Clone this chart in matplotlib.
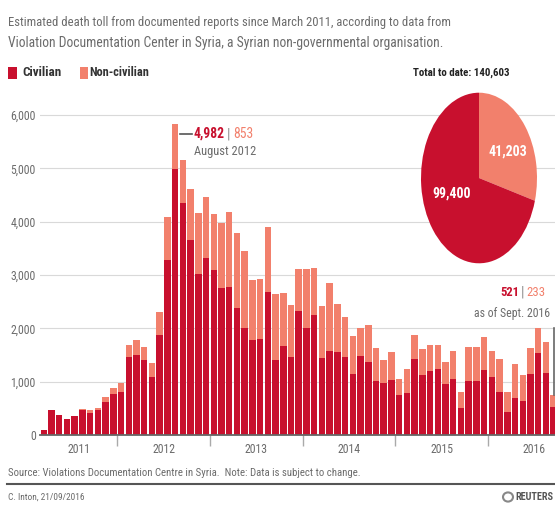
import matplotlib
matplotlib.use('Agg')
import matplotlib.pyplot as plt
from matplotlib import font_manager as fm
from matplotlib.lines import Line2D
from matplotlib.patches import Rectangle, Circle
import numpy as np
import pandas as pd

# ---------------- data ----------------
months = pd.date_range('2011-03-01', '2016-09-01', freq='MS')
civilian = [95, 460, 375, 300, 356, 470, 420, 470, 625, 770,
            813, 1470, 1500, 1406, 1094, 1875, 3281, 4982, 4356, 3656, 3019, 3312,
            3094, 2763, 2769, 2375, 2000, 1781, 1806, 2688, 1406, 1675, 1456, 2325,
            2005, 2255, 1440, 1570, 1550, 1462, 1150, 1481, 1369, 1006, 969, 1025,
            750, 794, 1419, 1125, 1200, 1231, 950, 1056, 513, 1019, 1013, 1213,
            1088, 806, 431, 688, 638, 1138, 1544, 1169, 521]
non_civilian = [0, 10, 5, 5, 5, 10, 50, 45, 80, 105,
                155, 220, 280, 250, 250, 431, 800, 853, 800, 950, 1150, 1144,
                1050, 1206, 1406, 1406, 1456, 1125, 1113, 1218, 1238, 994, 982, 795,
                1105, 875, 985, 1280, 910, 750, 706, 532, 687, 632, 437, 531,
                306, 437, 450, 494, 481, 450, 425, 525, 300, 625, 643, 625,
                487, 625, 382, 637, 487, 500, 456, 575, 233]
years = ['2011', '2012', '2013', '2014', '2015', '2016']
total_civilian = 99400
total_non_civilian = 41203
yticks = [0, 1000, 2000, 3000, 4000, 5000, 6000]

DARK = '#C8102E'
LIGHT = '#F2806C'
GRAY = '#6b6b6b'
TXT = '#333333'

names = {f.name for f in fm.fontManager.ttflist}
FONT = next((n for n in ['Liberation Sans Narrow', 'Roboto Condensed', 'Open Sans', 'Liberation Sans']
             if n in names), 'DejaVu Sans')
plt.rcParams['font.family'] = [FONT, 'DejaVu Sans']

W, H, DPI = 555, 508, 100
fig = plt.figure(figsize=(W / DPI, H / DPI), dpi=DPI)
fig.patch.set_facecolor('white')
renderer = fig.canvas.get_renderer()


def fx(x):
    return x / W


def fy(y):
    return 1 - y / H


def text_px(x, y, s, target_w=None, size=9, **kw):
    t = fig.text(fx(x), fy(y), s, fontsize=size, **kw)
    if target_w:
        for _ in range(3):
            w = t.get_window_extent(renderer).width
            size = size * target_w / w
            t.set_fontsize(size)
    return t


def line_px(x0, y0, x1, y1, **kw):
    fig.add_artist(Line2D([fx(x0), fx(x1)], [fy(y0), fy(y1)], transform=fig.transFigure, **kw))


# ---------------- main bar axes ----------------
px_per_unit = 320 / 6000.0
ymax = 6300
ax = fig.add_axes([fx(40), fy(435), (555 - 40) / W, ymax * px_per_unit / H])
idx = np.arange(len(months))
civ = np.array(civilian)
non = np.array(non_civilian)
ax.bar(idx, civ, width=0.84, color=DARK, linewidth=0, zorder=2)
ax.bar(idx, non, bottom=civ, width=0.84, color=LIGHT, linewidth=0, zorder=2)
ax.set_xlim(-0.49, 66.17)
ax.set_ylim(0, ymax)

ax.set_yticks(yticks)
ax.set_yticklabels([f'{v:,}' for v in yticks])
ax.yaxis.grid(True, color='#d9d9d9', lw=0.8, zorder=0)
ax.set_axisbelow(True)
ax.tick_params(axis='y', length=0, pad=3, labelsize=8.5, labelcolor=GRAY)
for s in ['top', 'right', 'left']:
    ax.spines[s].set_visible(False)
ax.spines['bottom'].set_color('#666666')
ax.spines['bottom'].set_linewidth(1.3)

# year boundaries and labels
year_idx = [i for i, m in enumerate(months) if m.month == 1]
ax.set_xticks([i - 0.5 for i in year_idx])
ax.set_xticklabels([])
ax.tick_params(axis='x', which='major', length=8, width=1, color='#aaaaaa', direction='out')
starts = [-0.5] + [i - 0.5 for i in year_idx]
centers = [(starts[0] + starts[1]) / 2] + [s + 6 for s in starts[1:]]
ax.set_xticks(centers, minor=True)
ax.set_xticklabels(years, minor=True)
ax.tick_params(axis='x', which='minor', length=0, pad=6, labelsize=8.5, labelcolor=GRAY)

# ---------------- pie ----------------
pax = fig.add_axes([fx(421), fy(263.3), 116 / W, 170.6 / H])
pax.pie([total_non_civilian, total_civilian], colors=[LIGHT, DARK], startangle=90,
        counterclock=False, wedgeprops=dict(linewidth=0))
pax.set_aspect('auto')
pax.set_xlim(-1, 1)
pax.set_ylim(-1, 1)
pax.axis('off')
text_px(508, 152, f'{total_non_civilian:,}', size=10, color='white', fontweight='bold',
        ha='center', va='center')
text_px(452, 194, f'{total_civilian:,}', size=10, color='white', fontweight='bold',
        ha='center', va='center')

# ---------------- texts ----------------
text_px(8, 26, 'Estimated death toll from documented reports since March 2011, according to data from',
        target_w=443, color=GRAY, va='baseline')
text_px(8, 47, 'Violation Documentation Center in Syria, a Syrian non-governmental organisation.',
        target_w=438, color=GRAY, va='baseline')

fig.add_artist(Rectangle((fx(8.3), fy(79)), 8.5 / W, 12 / H, transform=fig.transFigure,
                         color=DARK, lw=0))
text_px(22.5, 73, 'Civilian', target_w=39, color=TXT, fontweight='bold', va='center')
fig.add_artist(Rectangle((fx(80), fy(79)), 8 / W, 12 / H, transform=fig.transFigure,
                         color=LIGHT, lw=0))
text_px(89, 73, 'Non-civilian', target_w=60, color=TXT, fontweight='bold', va='center')
text_px(413, 73, f'Total to date: {total_civilian + total_non_civilian:,}', target_w=96,
        color='#222222', fontweight='bold', va='center')

# peak annotation
pk = int(np.argmax(civ + non))
line_px(180, 134, 192, 134, color='#555555', lw=1.2)
text_px(194, 134, f'{civ[pk]:,}', target_w=31, color=DARK, fontweight='bold', va='center')
text_px(228.5, 134, '|', size=10, color='#888888', va='center', ha='center')
text_px(233, 134, f'{non[pk]:,}', target_w=20, color=LIGHT, va='center')
text_px(194, 152, months[pk].strftime('%B %Y'), target_w=62, color=GRAY, va='center')

# latest annotation (kept inside the picture)
text_px(500, 293, f'{civ[-1]:,}', target_w=19, color=DARK, fontweight='bold', va='center')
text_px(522, 293, '|', size=10, color='#888888', va='center', ha='center')
text_px(526, 293, f'{non[-1]:,}', target_w=19, color=LIGHT, va='center')
text_px(474, 313, 'as of Sept. 2016', target_w=76, color=GRAY, va='center')
line_px(554, 328, 554, 395, color='#666666', lw=1.2)

# footer
text_px(8, 473, 'Source: Violations Documentation Centre in Syria.  Note: Data is subject to change.',
        target_w=354, color=GRAY, va='center')
line_px(7, 484, 555, 484, color='#555555', lw=1.5)
text_px(8, 497, 'C. Inton, 21/09/2016', target_w=77, color=GRAY, va='center')
fig.add_artist(Circle((fx(508), fy(497)), 5 / W, transform=fig.transFigure,
                      facecolor='none', edgecolor='#888888', lw=1.5))
text_px(515, 497, 'REUTERS', target_w=38, color='#555555', fontweight='bold', va='center')

fig.savefig('out.png', dpi=DPI, facecolor='white')
